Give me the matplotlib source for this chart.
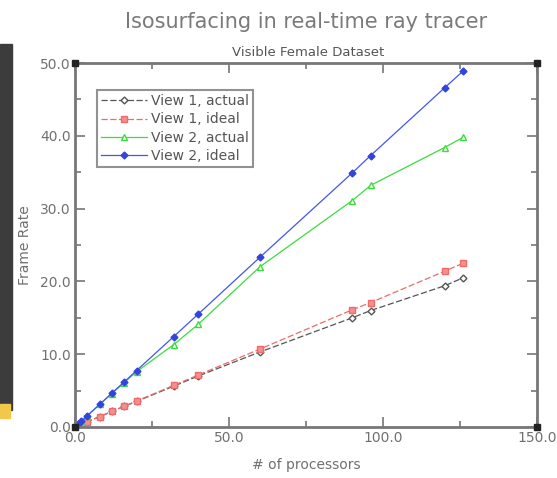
import matplotlib
matplotlib.use("Agg")
import matplotlib.pyplot as plt
from matplotlib.patches import Rectangle
from matplotlib.ticker import MultipleLocator, FormatStrFormatter

# datos
procesadores = [1, 2, 4, 8, 12, 16, 20, 32, 40, 60, 90, 96, 120, 126]
vista1_real = [0.18, 0.36, 0.71, 1.42, 2.13, 2.84, 3.52, 5.6, 7.0, 10.3, 15.0, 16.0, 19.4, 20.5]
vista1_ideal = [0.18, 0.36, 0.71, 1.43, 2.14, 2.86, 3.57, 5.71, 7.14, 10.7, 16.1, 17.1, 21.4, 22.5]
vista2_real = [0.39, 0.78, 1.55, 3.1, 4.6, 6.1, 7.6, 11.3, 14.1, 22.0, 31.1, 33.2, 38.4, 39.8]
vista2_ideal = [0.39, 0.78, 1.55, 3.1, 4.66, 6.2, 7.76, 12.4, 15.5, 23.3, 34.9, 37.3, 46.6, 48.9]

gris = '#777777'
texto = '#707070'

fig = plt.figure(figsize=[5.57, 4.78], dpi=100)
ax = fig.add_axes([0.1346, 0.1067, 0.8294, 0.7613])

# barra oscura del borde izquierdo de la captura
fig.patches.append(Rectangle((0, 0.142), 0.022, 0.766, transform=fig.transFigure,
                             color='#3c3c3c', zorder=0))
fig.patches.append(Rectangle((0, 0.125), 0.018, 0.03, transform=fig.transFigure,
                             color='#f2c84b', zorder=0))

ax.plot(procesadores, vista1_real, color='#555555', lw=0.9, ls=(0, (5, 2)),
        marker='D', ms=3.5, mfc='white', mec='#555555', label='View 1, actual')
ax.plot(procesadores, vista1_ideal, color='#f06a6a', lw=0.9, ls=(0, (5, 2)),
        marker='s', ms=4, mfc='#f49090', mec='#f06a6a', label='View 1, ideal')
ax.plot(procesadores, vista2_real, color='#3cdc3c', lw=0.9,
        marker='^', ms=5, mfc='white', mec='#3cdc3c', label='View 2, actual')
ax.plot(procesadores, vista2_ideal, color='#4455ee', lw=0.9,
        marker='D', ms=3.5, mfc='#3344dd', mec='#3344dd', label='View 2, ideal')

ax.set_xlim(0, 150)
ax.set_ylim(0, 50)
ax.xaxis.set_major_locator(MultipleLocator(50))
ax.xaxis.set_minor_locator(MultipleLocator(25))
ax.yaxis.set_major_locator(MultipleLocator(10))
ax.yaxis.set_minor_locator(MultipleLocator(5))
ax.xaxis.set_major_formatter(FormatStrFormatter('%.1f'))
ax.yaxis.set_major_formatter(FormatStrFormatter('%.1f'))
ax.tick_params(which='both', direction='in', top=True, right=True,
               color=gris, labelcolor=texto, labelsize=10, width=1.2)
ax.tick_params(which='major', length=7, pad=3)
ax.tick_params(which='minor', length=4)
for lado in ax.spines.values():
    lado.set_color(gris)
    lado.set_linewidth(2)

# cuadritos negros en las esquinas
ax.plot([0, 0, 150, 150], [0, 50, 50, 0], ls='none', marker='s', ms=5,
        color='#222222', clip_on=False, zorder=5)

ax.set_xlabel('# of processors', color=texto, fontsize=10, labelpad=9)
ax.set_ylabel('Frame Rate', color=texto, fontsize=10, labelpad=6)

fig.text(0.55, 0.955, 'Isosurfacing in real-time ray tracer', ha='center', va='center',
         color='#7a7a7a', fontsize=15)
fig.text(0.553, 0.89, 'Visible Female Dataset', ha='center', va='center',
         color='#555555', fontsize=9.5)

leg = ax.legend(loc='upper left', bbox_to_anchor=(0.033, 0.945), fontsize=10,
                frameon=True, fancybox=False, borderpad=0.3, labelspacing=0.3,
                handlelength=3.3, handletextpad=0.3)
leg.get_frame().set_edgecolor(gris)
leg.get_frame().set_linewidth(1.5)
for t in leg.get_texts():
    t.set_color('#555555')

plt.savefig('out.png')
